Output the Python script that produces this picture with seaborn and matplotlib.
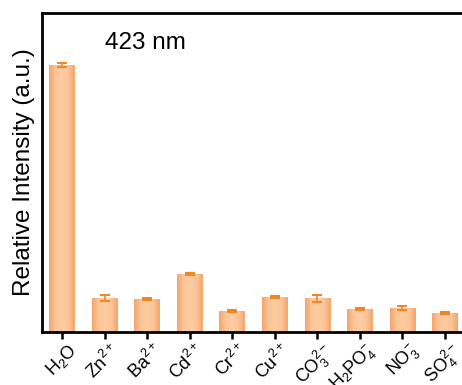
import numpy as np
import matplotlib
matplotlib.use("Agg")
import matplotlib.pyplot as plt
from matplotlib.colors import LinearSegmentedColormap
from matplotlib.transforms import ScaledTranslation
import seaborn as sns
import pandas as pd

# Ion labels (mathtext for sub/superscripts)
categories = [r"$\mathrm{H_2O}$", r"$\mathrm{Zn^{2+}}$", r"$\mathrm{Ba^{2+}}$",
              r"$\mathrm{Cd^{2+}}$", r"$\mathrm{Cr^{2+}}$", r"$\mathrm{Cu^{2+}}$",
              r"$\mathrm{CO_3^{2-}}$", r"$\mathrm{H_2PO_4^{-}}$",
              r"$\mathrm{NO_3^{-}}$", r"$\mathrm{SO_4^{2-}}$"]
intensity = [100.0, 12.7, 12.4, 21.7, 7.9, 13.1, 12.7, 8.6, 9.0, 7.1]
errors = [0.6, 1.0, 0.5, 0.4, 0.3, 0.5, 1.3, 0.4, 0.6, 0.4]

sns.set_theme(style="white")
plt.rcParams["font.family"] = ["Liberation Sans", "DejaVu Sans"]
plt.rcParams["mathtext.fontset"] = "custom"
plt.rcParams["mathtext.rm"] = "Liberation Sans"
plt.rcParams["mathtext.it"] = "Liberation Sans:italic"
plt.rcParams["text.color"] = "black"
plt.rcParams["axes.labelcolor"] = "black"
plt.rcParams["xtick.color"] = "black"

df = pd.DataFrame({"ion": categories, "value": intensity})

fig = plt.figure(figsize=(4.62, 3.85), dpi=100)
ax = fig.add_axes([0.0909, 0.1377, 0.9156, 0.8286])

sns.barplot(data=df, x="ion", y="value", ax=ax, color="#F8BB88",
            width=0.6, errorbar=None, edgecolor="none", saturation=1)

# Soft horizontal gradient inside each bar: darker at the edges
cmap = LinearSegmentedColormap.from_list(
    "peach", ["#F3A46A", "#FAC597", "#FCCDA2", "#FAC597", "#F3A46A"])
grad = np.linspace(0, 1, 256).reshape(1, -1)
for p in ax.patches:
    x0, y0 = p.get_x(), p.get_y()
    w, h = p.get_width(), p.get_height()
    im = ax.imshow(grad, cmap=cmap, aspect="auto",
                   extent=[x0, x0 + w, y0, y0 + h], zorder=p.get_zorder() + 0.1)
    im.set_clip_path(p)

ax.errorbar(range(len(categories)), intensity, yerr=errors, fmt="none",
            ecolor="#F0882A", elinewidth=1.2, capsize=3.5, capthick=1.5, zorder=5)

ax.set_xlim(-0.47, 9.47)
ax.set_ylim(0, 119.5)
ax.set_yticks([])
ax.set_xlabel("")
ax.set_ylabel("Relative Intensity (a.u.)", fontsize=17.5, labelpad=5)

ax.set_xticks(range(len(categories)))
ax.set_xticklabels(categories, rotation=45, ha="right", rotation_mode="anchor",
                   fontsize=13)
ax.tick_params(axis="x", direction="out", length=5, width=1.8, pad=1,
               bottom=True)
shift = ScaledTranslation(5 / 100, 0, fig.dpi_scale_trans)
for lbl in ax.get_xticklabels():
    lbl.set_transform(lbl.get_transform() + shift)

for s in ax.spines.values():
    s.set_linewidth(2.0)
    s.set_color("black")

ax.text(0.245, 0.905, "423 nm", transform=ax.transAxes, fontsize=17.5,
        ha="center", va="center")

fig.savefig("out.png", dpi=100)
